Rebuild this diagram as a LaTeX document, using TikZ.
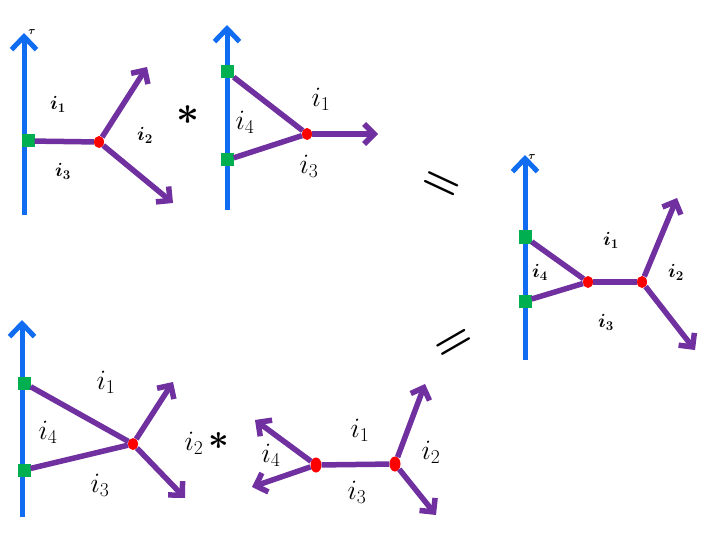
\documentclass[tikz,border=0pt]{standalone}
\usepackage{fix-cm}
\usetikzlibrary{arrows.meta,shapes.geometric}
\definecolor{axblue}{RGB}{16,108,240}
\definecolor{lnpurple}{RGB}{112,48,160}
\definecolor{sqgreen}{RGB}{0,176,80}
\tikzset{
  axis/.style={draw=axblue, line width=5pt, -{Straight Barb[length=13pt,width=25pt]}},
  leg/.style={draw=lnpurple, line width=5.5pt},
  legarrow/.style={leg, -{Straight Barb[length=10pt,width=20pt]}},
  sq/.style={rectangle, fill=sqgreen, minimum size=13pt, inner sep=0pt},
  dot/.style={ellipse, fill=red, minimum width=10pt, minimum height=12pt, inner sep=0pt},
  bigdot/.style={dot, minimum width=11pt, minimum height=15pt},
  smlbl/.style={inner sep=0pt, font=\fontsize{19}{22}\selectfont\boldmath},
  biglbl/.style={inner sep=0pt, font=\fontsize{28}{32}\selectfont},
  taulbl/.style={inner sep=0pt, font=\fontsize{11}{13}\selectfont\boldmath},
  eqsign/.style={inner sep=0pt, font=\fontsize{44}{48}\selectfont\boldmath},
  star/.style={inner sep=0pt, font=\fontsize{40}{44}\selectfont\boldmath},
}
\begin{document}
\begin{tikzpicture}[x=1pt,y=-1pt]
\useasboundingbox (0,0) rectangle (720,540);
% ---------- diagram 1 ----------
\coordinate (ax1b) at (24,215); \coordinate (ax1t) at (24,33);
\draw[axis] (ax1b) -- (ax1t);
\node[taulbl] (tau1) at (32,32) {$\tau$};
\node[sq] (s1) at (28,141) {};
\node[dot] (r1) at (99,142) {};
\coordinate (e1a) at (147,67); \coordinate (e1b) at (173,203);
\draw[leg] (s1) -- (r1);
\draw[legarrow] (r1) -- (e1a);
\draw[legarrow] (r1) -- (e1b);
\node[smlbl] (l1a) at (58,104) {$i_1$};
\node[smlbl] (l1b) at (145,135) {$i_2$};
\node[smlbl] (l1c) at (63,171) {$i_3$};
\node[star] (st1) at (188,115) {$\ast$};
% ---------- diagram 2 ----------
\coordinate (ax2b) at (227,210); \coordinate (ax2t) at (227,25);
\draw[axis] (ax2b) -- (ax2t);
\node[sq] (s2a) at (227,72) {};
\node[sq] (s2b) at (227,160) {};
\node[dot] (r2) at (307,134) {};
\coordinate (e2) at (378,134);
\draw[leg] (s2a) -- (r2);
\draw[leg] (s2b) -- (r2);
\draw[legarrow] (r2) -- (e2);
\node[biglbl] (l2a) at (321,99) {$i_1$};
\node[biglbl] (l2b) at (245,122) {$i_4$};
\node[biglbl] (l2c) at (309,166) {$i_3$};
% ---------- equals signs ----------
\node[eqsign, rotate=-25] (eq1) at (441,186) {$=$};
\node[eqsign, rotate=30] (eq2) at (455,345) {$=$};
% ---------- diagram 3 ----------
\coordinate (ax3b) at (525,360); \coordinate (ax3t) at (525,155);
\draw[axis] (ax3b) -- (ax3t);
\node[taulbl] (tau3) at (532,157) {$\tau$};
\node[sq] (s3a) at (525,237) {};
\node[sq] (s3b) at (525,301) {};
\node[dot] (r3a) at (588,282) {};
\node[dot] (r3b) at (642,282) {};
\coordinate (e3a) at (677,198); \coordinate (e3b) at (695,350);
\draw[leg] (s3a) -- (r3a);
\draw[leg] (s3b) -- (r3a);
\draw[leg] (r3a) -- (r3b);
\draw[legarrow] (r3b) -- (e3a);
\draw[legarrow] (r3b) -- (e3b);
\node[smlbl] (l3a) at (611,240) {$i_1$};
\node[smlbl] (l3b) at (540,272) {$i_4$};
\node[smlbl] (l3c) at (676,272) {$i_2$};
\node[smlbl] (l3d) at (606,322) {$i_3$};
% ---------- diagram 4 ----------
\coordinate (ax4b) at (22,517); \coordinate (ax4t) at (22,320);
\draw[axis] (ax4b) -- (ax4t);
\node[sq] (s4a) at (24,383) {};
\node[sq] (s4b) at (24,470) {};
\node[dot] (r4) at (133,444) {};
\coordinate (e4a) at (173,382); \coordinate (e4b) at (185,498);
\draw[leg] (s4a) -- (r4);
\draw[leg] (s4b) -- (r4);
\draw[legarrow] (r4) -- (e4a);
\draw[legarrow] (r4) -- (e4b);
\node[biglbl] (l4a) at (106,382) {$i_1$};
\node[biglbl] (l4b) at (48,432) {$i_4$};
\node[biglbl] (l4c) at (100,485) {$i_3$};
\node[biglbl] (l4d) at (194,443) {$i_2$};
\node[star, font=\fontsize{36}{40}\selectfont\boldmath] (st2) at (219,441) {$\ast$};
% ---------- diagram 5 ----------
\node[bigdot] (r5a) at (316,465) {};
\node[bigdot] (r5b) at (395,464) {};
\coordinate (e5a) at (255,420); \coordinate (e5b) at (252,487);
\coordinate (e5c) at (425,384); \coordinate (e5d) at (436,515);
\draw[leg] (r5a) -- (r5b);
\draw[legarrow] (r5a) -- (e5a);
\draw[legarrow] (r5a) -- (e5b);
\draw[legarrow] (r5b) -- (e5c);
\draw[legarrow] (r5b) -- (e5d);
\node[biglbl] (l5a) at (360,430) {$i_1$};
\node[biglbl] (l5b) at (271,455) {$i_4$};
\node[biglbl] (l5c) at (357,492) {$i_3$};
\node[biglbl] (l5d) at (431,452) {$i_2$};
\end{tikzpicture}
\end{document}
